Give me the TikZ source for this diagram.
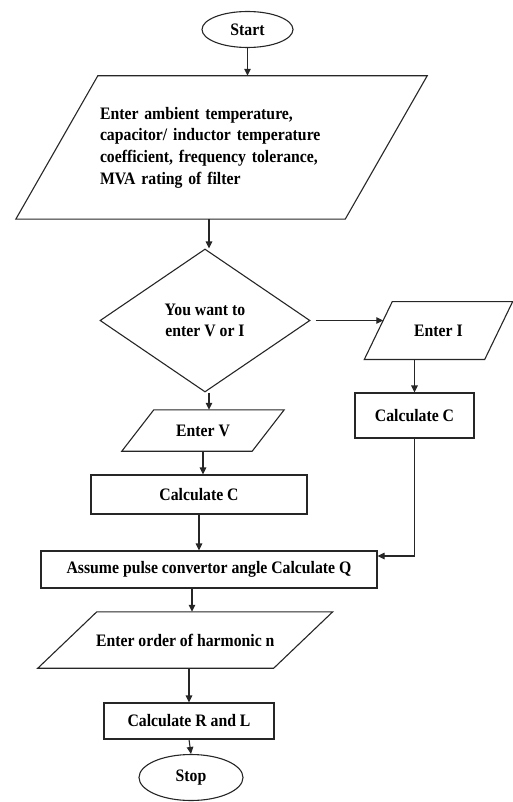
\documentclass[tikz,border=0pt]{standalone}
\usepackage{fontspec}
\setmainfont{Liberation Serif}[FakeStretch=0.9]
\usetikzlibrary{shapes.geometric,arrows.meta,calc}
\newcommand\drawpara[2]{\draw[ln] ([xshift=#2]#1.north west) -- ([xshift=#2]#1.north east) -- ([xshift=-#2]#1.south east) -- ([xshift=-#2]#1.south west) -- cycle;}
\begin{document}
\begin{tikzpicture}[x=1pt,y=-1pt,
  every node/.style={font=\fontsize{17.5}{21.7}\selectfont\bfseries, inner sep=0pt},
  ln/.style={line width=1.1pt, draw=black!85},
  arr/.style={ln, -{Triangle[length=7pt,width=6.5pt]}},
  term/.style={ellipse, draw, ln},
  proc/.style={rectangle, draw, ln},
  io/.style={rectangle},
  decision/.style={diamond, draw, ln, align=center}
]
\useasboundingbox (0,0) rectangle (512,802);

\node[term, minimum width=91pt, minimum height=36pt] (start) at (247.5,29.5) {Start};
\node[io, minimum width=329pt, minimum height=143pt, text width=243pt, align=left] (in1) at (221.5,147.5)
  {Enter ambient temperature,\\ capacitor/ inductor temperature\\ coefficient, frequency tolerance,\\ MVA rating of filter};
\drawpara{in1}{41pt}
\node[decision, minimum width=210pt, minimum height=143pt] (dec) at (205,320.5) {You want to\\ enter V or I};
\node[io, minimum width=120pt, minimum height=57.5pt] (ei) at (438.5,330.5) {Enter I};
\drawpara{ei}{14pt}
\node[proc, minimum width=119pt, minimum height=45pt] (rc) at (414.5,415.5) {Calculate C};
\node[io, minimum width=130pt, minimum height=41pt] (ev) at (203,430.5) {Enter V};
\drawpara{ev}{16pt}
\node[proc, minimum width=216pt, minimum height=39pt] (lc) at (199,494.5) {Calculate C};
\node[proc, minimum width=336pt, minimum height=37pt] (as) at (209,569.5) {Assume pulse convertor angle Calculate Q};
\node[io, minimum width=235.5pt, minimum height=56pt] (eo) at (185.25,640) {Enter order of harmonic n};
\drawpara{eo}{29.5pt}
\node[proc, minimum width=170pt, minimum height=36pt] (rl) at (189,721) {Calculate R and L};
\node[term, minimum width=104pt, minimum height=46pt] (stop) at (191,777.5) {Stop};

\draw[arr] (start.south) -- (start.south |- in1.north);
\draw[arr] ([xshift=4pt]dec.north |- in1.south) -- ([xshift=4pt]dec.north);
\draw[arr] ([xshift=5pt]dec.east) -- ([xshift=5pt]dec.east -| ei.west);
\draw[arr] (ei.south -| rc.north) -- (rc.north);
\draw[arr] ([xshift=4pt]dec.south) -- ([xshift=4pt]dec.south |- ev.north);
\draw[arr] (ev.south) -- (ev.south |- lc.north);
\draw[arr] (lc.south) -- (lc.south |- as.north);
\draw[arr] (rc.south) |- ([yshift=13.5pt]as.east);
\draw[arr] ([xshift=-17pt]as.south) -- ([xshift=-17pt]as.south |- eo.north);
\draw[arr] (rl.north |- eo.south) -- (rl.north);
\draw[arr] (rl.south) -- (stop.north);
\end{tikzpicture}
\end{document}
